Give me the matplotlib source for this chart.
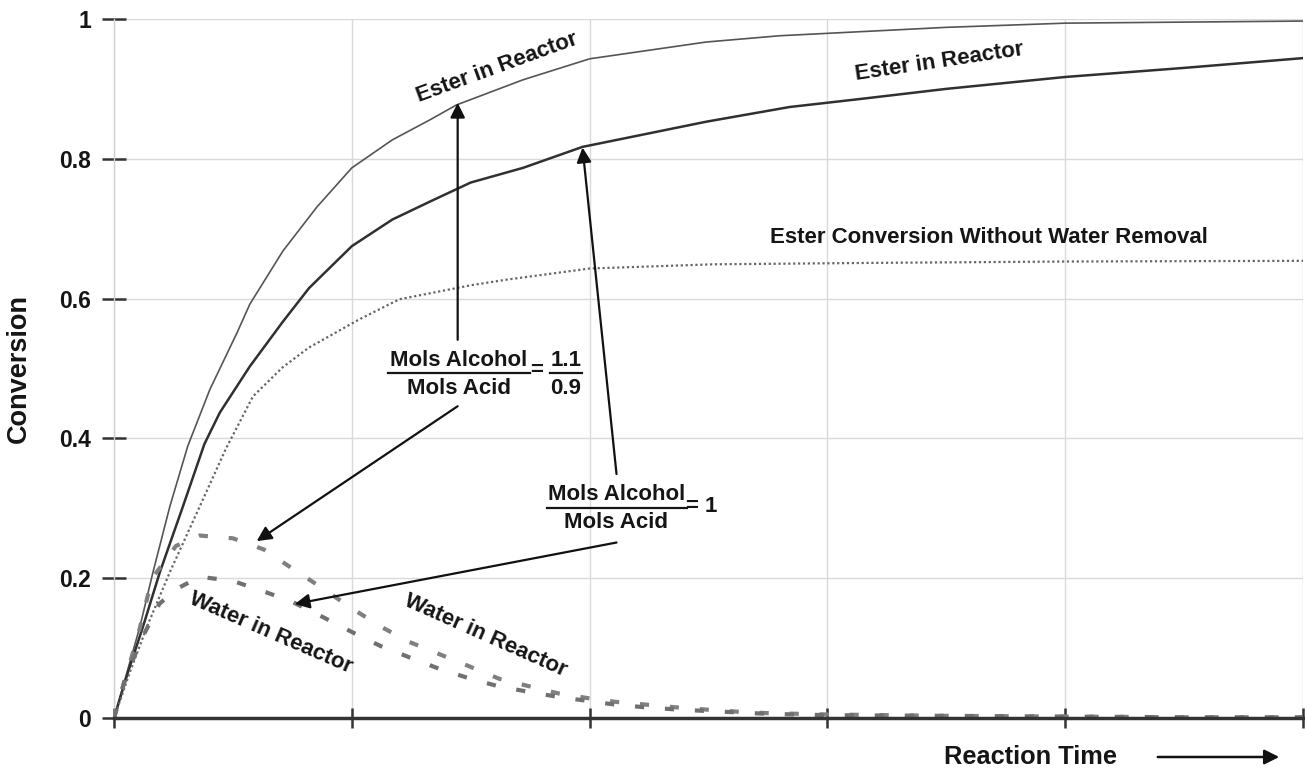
import numpy as np
import matplotlib
matplotlib.use('Agg')
import matplotlib.pyplot as plt

plt.rcParams['font.family'] = ['Liberation Sans', 'DejaVu Sans']
plt.rcParams['font.weight'] = 'bold'

# values (x = reaction time in grid units, y = conversion)
ester_hi_x = [0, 0.055, 0.109, 0.164, 0.235, 0.31, 0.403, 0.517, 0.571, 0.71, 0.853, 1.0, 1.17, 1.33, 1.44,
              1.72, 2.0, 2.49, 2.8, 3.15, 3.5, 4.0, 5.0]
ester_hi_y = [0, 0.066, 0.131, 0.209, 0.303, 0.389, 0.47, 0.551, 0.592, 0.668, 0.731, 0.787, 0.827, 0.856, 0.877,
              0.913, 0.943, 0.967, 0.976, 0.982, 0.988, 0.994, 0.997]

ester_eq_x = [0, 0.059, 0.122, 0.193, 0.29, 0.38, 0.445, 0.571, 0.71, 0.82, 1.0, 1.17, 1.33, 1.5, 1.72,
              1.97, 2.49, 2.84, 3.15, 3.5, 4.0, 4.5, 5.0]
ester_eq_y = [0, 0.066, 0.131, 0.209, 0.303, 0.392, 0.437, 0.503, 0.567, 0.615, 0.675, 0.713, 0.739, 0.766, 0.787,
              0.817, 0.853, 0.874, 0.886, 0.900, 0.917, 0.930, 0.944]

no_removal_x = [0, 0.067, 0.139, 0.235, 0.361, 0.47, 0.584, 0.71, 0.82, 1.03, 1.2, 1.5, 1.65, 2.0, 2.52, 3.18, 4.0, 5.0]
no_removal_y = [0, 0.066, 0.131, 0.209, 0.303, 0.385, 0.46, 0.502, 0.530, 0.570, 0.599, 0.619, 0.627, 0.643, 0.649,
                0.651, 0.653, 0.654]

water_hi_x = [0, 0.05, 0.1, 0.16, 0.22, 0.26, 0.36, 0.5, 0.63, 0.74, 0.87, 0.99, 1.12, 1.24, 1.37, 1.5,
              1.62, 1.75, 1.87, 2.0, 2.11, 2.24, 2.37, 2.49, 2.62, 2.74, 2.87, 3.0, 3.5, 4.0, 4.5, 5.0]
water_hi_y = [0, 0.06, 0.117, 0.2, 0.227, 0.246, 0.261, 0.257, 0.241, 0.216, 0.187, 0.159, 0.131, 0.109, 0.091, 0.073,
              0.056, 0.045, 0.035, 0.028, 0.023, 0.019, 0.015, 0.012, 0.009, 0.007, 0.006, 0.005, 0.003, 0.002, 0.001, 0.001]

water_eq_x = [0, 0.05, 0.122, 0.19, 0.26, 0.36, 0.5, 0.63, 0.75, 0.88, 1.0, 1.12, 1.24, 1.37, 1.5,
              1.62, 1.75, 1.87, 2.0, 2.11, 2.24, 2.37, 2.49, 2.62, 2.74, 2.87, 3.0, 3.5, 4.0, 4.5, 5.0]
water_eq_y = [0, 0.06, 0.117, 0.163, 0.184, 0.202, 0.196, 0.181, 0.166, 0.144, 0.123, 0.103, 0.087, 0.07, 0.056,
              0.045, 0.037, 0.03, 0.024, 0.019, 0.015, 0.012, 0.01, 0.008, 0.006, 0.005, 0.004, 0.003, 0.002, 0.001, 0.001]

yticks = [0, 0.2, 0.4, 0.6, 0.8, 1.0]
ytick_labels = ['0', '0.2', '0.4', '0.6', '0.8', '1']
xticks = [0, 1, 2, 3, 4, 5]

TXT = '#151515'

fig = plt.figure(figsize=(13.05, 7.74), dpi=100)
ax = fig.add_axes([0.0874, 0.0724, 0.9111, 0.9031])

ax.plot(ester_hi_x, ester_hi_y, color='#555555', lw=1.2, zorder=3)
ax.plot(ester_eq_x, ester_eq_y, color='#303030', lw=1.8, zorder=3)
ax.plot(no_removal_x, no_removal_y, color='#666666', lw=1.6, ls=(0, (1, 1.2)), zorder=3)
ax.plot(water_hi_x, water_hi_y, color='#808080', lw=3.0, ls=(0, (2.2, 5)), zorder=3)
ax.plot(water_eq_x, water_eq_y, color='#707070', lw=3.0, ls=(0, (2.2, 5)), zorder=3)

ax.set_xlim(0, 5)
ax.set_ylim(0, 1.0)
ax.set_yticks(yticks)
ax.set_yticklabels(ytick_labels, fontsize=16.5, fontweight='bold', color=TXT)
ax.set_xticks(xticks)
ax.set_xticklabels([])
ax.grid(True, color='#d9d9d9', lw=1)
ax.tick_params(axis='y', direction='inout', length=17, width=1.8, pad=8, colors='#333333')
ax.tick_params(axis='x', direction='inout', length=14, width=1.8, colors='#333333')
for t in ax.get_yticklabels():
    t.set_color(TXT)
for s in ['top', 'right']:
    ax.spines[s].set_visible(False)
ax.spines['left'].set_color('#d0d0d0')
ax.spines['left'].set_linewidth(1)
ax.spines['bottom'].set_color('#333333')
ax.spines['bottom'].set_linewidth(2.5)
ax.spines['bottom'].set_zorder(4)

ax.set_ylabel('Conversion', fontsize=19.5, fontweight='bold', color=TXT)
ax.yaxis.set_label_coords(-0.0695, 0.5)

# curve labels
tk = dict(fontsize=16, fontweight='bold', color=TXT, ha='center', va='center')
ax.text(1.61, 0.93, 'Ester in Reactor', rotation=20, **tk)
ax.text(3.47, 0.939, 'Ester in Reactor', rotation=8.5, **tk)
ax.text(3.68, 0.687, 'Ester Conversion Without Water Removal', **tk)
ax.text(0.66, 0.121, 'Water in Reactor', rotation=-23.5, **tk)
ax.text(1.56, 0.117, 'Water in Reactor', rotation=-24, **tk)

# ratio labels
ax.text(1.45, 0.512, 'Mols Alcohol', **tk)
ax.text(1.45, 0.472, 'Mols Acid', **tk)
ax.plot([1.151, 1.748], [0.493, 0.493], color=TXT, lw=1.6)
ax.text(1.775, 0.497, '=', **tk)
ax.text(1.90, 0.512, '1.1', **tk)
ax.text(1.90, 0.472, '0.9', **tk)
ax.plot([1.832, 1.966], [0.493, 0.493], color=TXT, lw=1.6)

ax.text(2.113, 0.319, 'Mols Alcohol', **tk)
ax.text(2.11, 0.279, 'Mols Acid', **tk)
ax.plot([1.819, 2.408], [0.300, 0.300], color=TXT, lw=1.6)
ax.text(2.405, 0.303, '= 1', fontsize=16, fontweight='bold', color=TXT, ha='left', va='center')

ap = dict(arrowstyle='-|>', color='#111111', lw=1.6, mutation_scale=22, shrinkA=0, shrinkB=0)
ax.annotate('', xy=(1.445, 0.88), xytext=(1.445, 0.541), arrowprops=ap)
ax.annotate('', xy=(0.60, 0.253), xytext=(1.445, 0.446), arrowprops=ap)
ax.annotate('', xy=(1.97, 0.816), xytext=(2.113, 0.349), arrowprops=ap)
ax.annotate('', xy=(0.76, 0.163), xytext=(2.113, 0.251), arrowprops=ap)

# x axis label with arrow
fig.text(1031 / 1305, 1 - 757 / 774, 'Reaction Time', fontsize=18.3, fontweight='bold',
         color=TXT, ha='center', va='center')
fig.patches.append(matplotlib.patches.FancyArrowPatch(
    (1155 / 1305, 1 - 757 / 774), (1282 / 1305, 1 - 757 / 774), transform=fig.transFigure,
    arrowstyle='-|>', mutation_scale=22, lw=1.8, color='#111111'))

fig.savefig('out.png', dpi=100)
